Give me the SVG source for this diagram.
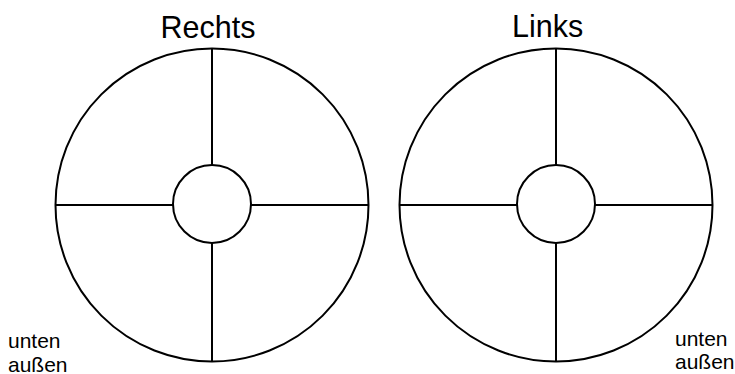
<svg xmlns="http://www.w3.org/2000/svg" width="735" height="374" viewBox="0 0 735 374">
<style>
.c{fill:none;stroke:#000;stroke-width:2}
.l{stroke:#000;stroke-width:2}
.t{font-family:"Liberation Sans",Arial,sans-serif;fill:#000}
.h{font-size:30.5px}
.s{font-size:21px}
</style>
<rect width="735" height="374" fill="#fff"/>
<g id="rechts">
<circle class="c" cx="212" cy="205" r="156.5"/>
<circle class="c" cx="212" cy="204" r="39"/>
<line class="l" x1="212" y1="48.5" x2="212" y2="165"/>
<line class="l" x1="212" y1="243" x2="212" y2="361.5"/>
<line class="l" x1="55.5" y1="205" x2="173" y2="205"/>
<line class="l" x1="251" y1="205" x2="368.5" y2="205"/>
<text class="t h" x="160.5" y="37.5">Rechts</text>
</g>
<g id="links">
<circle class="c" cx="556" cy="205" r="156.5"/>
<circle class="c" cx="556" cy="204" r="39"/>
<line class="l" x1="556" y1="48.5" x2="556" y2="165"/>
<line class="l" x1="556" y1="243" x2="556" y2="361.5"/>
<line class="l" x1="399.5" y1="205" x2="517" y2="205"/>
<line class="l" x1="595" y1="205" x2="712.5" y2="205"/>
<text class="t h" x="512" y="37">Links</text>
</g>
<g id="label-left">
<text class="t s" x="8" y="347.5">unten</text>
<text class="t s" x="8" y="371.5">außen</text>
</g>
<g id="label-right">
<text class="t s" x="675" y="345.5">unten</text>
<text class="t s" x="675" y="369">außen</text>
</g>
</svg>
